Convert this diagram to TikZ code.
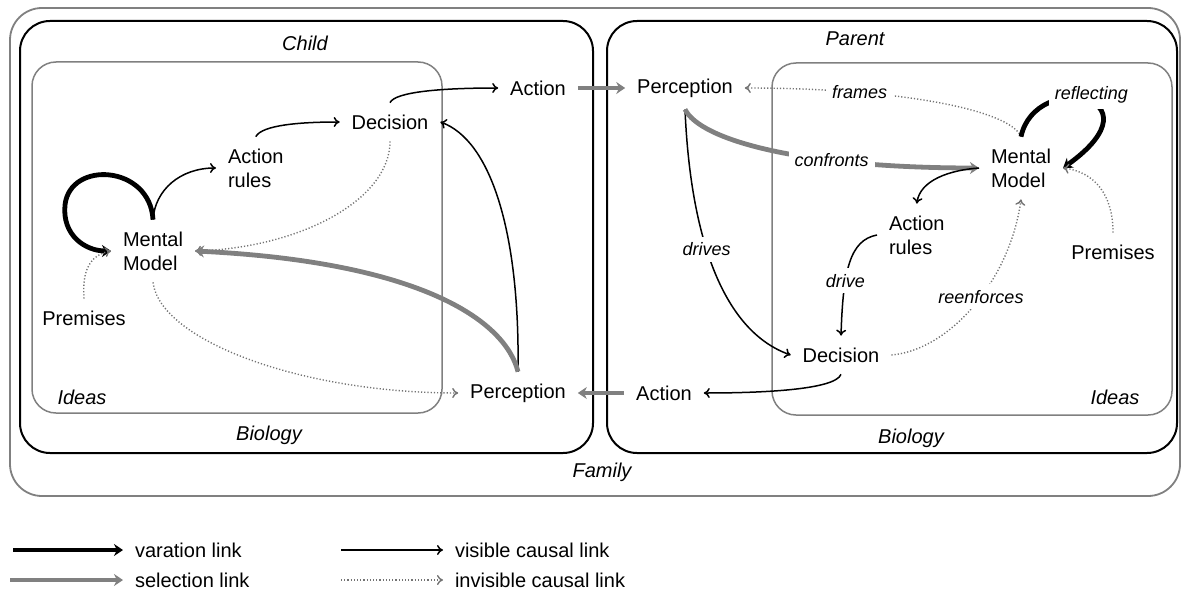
\documentclass[tikz,border=0pt]{standalone}
\usepackage{fontspec}
\setmainfont{Liberation Sans}
\usetikzlibrary{arrows.meta}

\tikzset{
  concept/.style={font=\fontsize{10}{12}\selectfont, inner sep=2pt, outer sep=4pt},
  stack/.style={concept, align=left, anchor=west},
  tag/.style={font=\fontsize{9}{11}\selectfont\itshape, fill=white, inner sep=3pt},
  boxtag/.style={font=\fontsize{10}{12}\selectfont\itshape, inner sep=0pt},
  famil/.style={draw=black!50, line width=0.9pt, rounded corners=16pt},
  body/.style={draw=black, line width=1pt, rounded corners=15pt},
  ideas/.style={draw=black!50, line width=0.75pt, rounded corners=12pt},
  varlink/.style={line width=2.4pt, -{Stealth[length=4.5pt,width=6pt]}},
  sellink/.style={line width=2.4pt, draw=black!50, -{Stealth[length=4.5pt,width=6pt]}},
  vislink/.style={line width=0.75pt, -{To[length=3pt,width=5pt]}},
  invlink/.style={draw=black!55, line width=0.7pt, dash pattern=on 0.6pt off 1pt, -{To[length=3pt,width=5pt]}},
}

\begin{document}
\begin{tikzpicture}[x=0.5pt, y=-0.5pt]
\useasboundingbox (0,0) rectangle (1181,599);

% boxes
\draw[famil] (10,8) rectangle (1180,496);
\draw[body] (20,21) rectangle (593,453);
\draw[body] (607,21) rectangle (1177,453);
\draw[ideas] (32,62) rectangle (442,413);
\draw[ideas] (772,63) rectangle (1172,415);
\node[boxtag] (family) at (602,472) {Family};
\node[boxtag] (child) at (305,43) {Child};
\node[boxtag] (parent) at (855,39) {Parent};
\node[boxtag] (cbio) at (269,435) {Biology};
\node[boxtag] (pbio) at (911,438) {Biology};
\node[boxtag] (cidea) at (82,397) {Ideas};
\node[boxtag] (pidea) at (1115,397) {Ideas};

% child
\node[concept] (cAct) at (538,88) {Action};
\node[concept] (cDec) at (390,122) {Decision};
\node[stack] (cRul) at (216,168) {Action\\rules};
\node[stack] (cMen) at (111,251) {Mental\\Model};
\node[concept] (cPre) at (84,318) {Premises};
\node[concept] (cPer) at (518,393) {Perception};

% parent
\node[concept] (pPer) at (685,88) {Perception};
\node[stack] (pMen) at (979,168) {Mental\\Model};
\node[stack] (pRul) at (877,235) {Action\\rules};
\node[concept] (pPre) at (1113,252) {Premises};
\node[concept] (pDec) at (841,355) {Decision};
\node[concept] (pAct) at (664,393) {Action};

% child links
\draw[varlink] (cMen.north) .. controls (150,165) and (70,160) .. (65,205) .. controls (62,235) and (85,251) .. (cMen.west);
\draw[vislink] (cMen.north) .. controls (155,190) and (180,168) .. (cRul.west);
\draw[vislink] (cRul.north) .. controls (262,125) and (300,122) .. (cDec.west);
\draw[vislink] (cDec.north) .. controls (395,92) and (440,88) .. (cAct.west);
\draw[invlink] (cDec.south) .. controls (390,200) and (300,248) .. (cMen.east);
\draw[invlink] (cPre.north) .. controls (82,270) and (90,255) .. (cMen.west);
\draw[invlink] (cMen.south) .. controls (160,340) and (300,393) .. (cPer.west);
\draw[vislink] (cPer.north) .. controls (520,230) and (490,140) .. (cDec.east);
\draw[sellink] (cPer.north) .. controls (505,320) and (420,262) .. (cMen.east);
\draw[sellink] (cAct.east) -- (pPer.west);

% parent links
\draw[sellink] (pAct.west) -- (cPer.east);
\draw[vislink] (pDec.south) .. controls (835,390) and (760,393) .. (pAct.east);
\draw[vislink] (pPer.south) .. controls (690,230) and (720,330) .. node[tag, pos=0.43] {drives} (pDec.west);
\draw[sellink] (pPer.south) .. controls (700,140) and (800,168) .. node[tag, pos=0.68] {confronts} (pMen.west);
\draw[vislink] (pMen.west) .. controls (950,170) and (920,180) .. (pRul.north);
\draw[vislink] (pRul.west) .. controls (850,240) and (843,270) .. node[tag, pos=0.66] {drive} (pDec.north);
\draw[invlink] (pMen.north) .. controls (1010,110) and (900,88) .. node[tag, pos=0.73] {frames} (pPer.east);
\draw[varlink] (pMen.north) .. controls (1035,70) and (1165,95) .. node[tag, pos=0.55, yshift=4pt] {reflecting} (pMen.east);
\draw[invlink] (pPre.north) .. controls (1113,195) and (1095,172) .. (pMen.east);
\draw[invlink] (pDec.east) .. controls (950,350) and (1010,280) .. node[tag, pos=0.55] {reenforces} (pMen.south);

% legend
\node[concept, anchor=west] (lvar) at (123,550) {varation link};
\node[concept, anchor=west] (lsel) at (123,580) {selection link};
\node[concept, anchor=west] (lvis) at (443,550) {visible causal link};
\node[concept, anchor=west] (linv) at (443,580) {invisible causal link};
\coordinate (svar) at (13,550);
\coordinate (ssel) at (10,580);
\coordinate (svis) at (341,550);
\coordinate (sinv) at (341,580);
\draw[varlink] (svar) -- (lvar.west);
\draw[sellink] (ssel) -- (lsel.west);
\draw[vislink] (svis) -- (lvis.west);
\draw[invlink] (sinv) -- (linv.west);
\end{tikzpicture}
\end{document}
